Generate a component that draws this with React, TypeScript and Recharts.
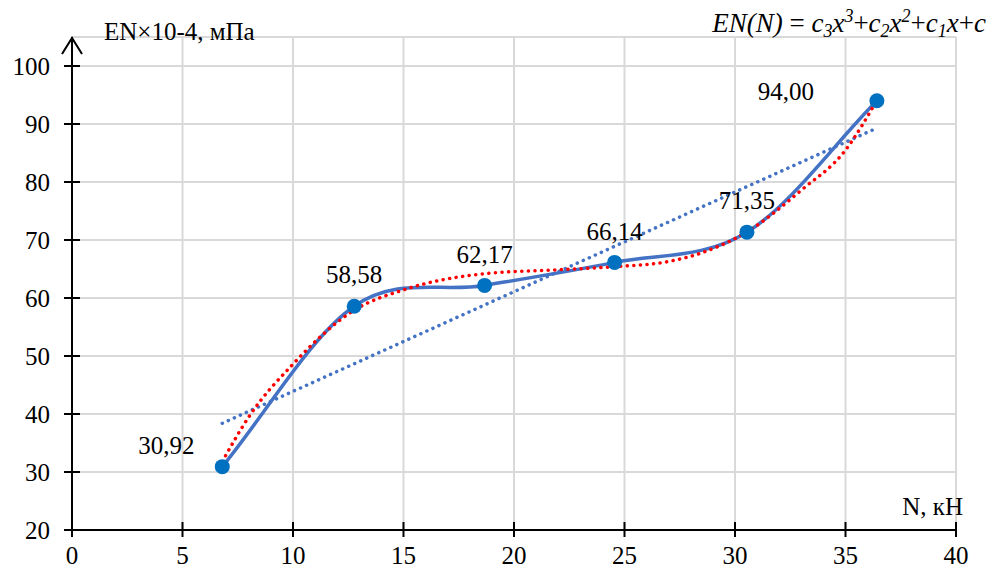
import { LineChart, Line, XAxis, YAxis, CartesianGrid, LabelList } from 'recharts';

// measured points: load N (kN) vs EN×10-4 (MPa)
const loadN = [6.8, 12.77, 18.67, 24.55, 30.54, 36.42];
const modulusEN = [30.92, 58.58, 62.17, 66.14, 71.35, 94.0];

// cubic trend line
const cubicN = [6.8, 8, 10, 12.77, 15, 18.67, 21.6, 24.55, 27, 28.5, 30.54, 33, 35, 36.42];
const cubicEN = [31.8, 39.5, 48.6, 57.9, 61.4, 64.2, 64.8, 65.4, 66.3, 67.8, 71.4, 78.6, 85.5, 94.1];

// linear trend line
const linearN = [6.8, 36.42];
const linearEN = [38.4, 89.3];

const xTicks = [0, 5, 10, 15, 20, 25, 30, 35, 40];
const yTicks = [20, 30, 40, 50, 60, 70, 80, 90, 100];

const FONT = "'Liberation Serif', 'Times New Roman', serif";
const BLUE = '#4472C4';
const MARKER = '#0070C0';
const textStyle = { fontFamily: FONT, fontSize: 25 };

const mainData = loadN.map((n, i) => ({ n, en: modulusEN[i] }));
const cubicData = cubicN.map((n, i) => ({ n, en: cubicEN[i] }));
const linearData = linearN.map((n, i) => ({ n, en: linearEN[i] }));

// label placement around each marker
const labelShift: Record<number, [number, number]> = {
  0: [-56, -22],
  1: [0, -32],
  2: [0, -31],
  3: [0, -31],
  4: [0, -32],
  5: [-91, -10],
};

// Excel-style smoothed line (Catmull-Rom through the points, reflected ends)
const smoothCurve = (context: any) => {
  let pts: number[][] = [];
  return {
    areaStart() {},
    areaEnd() {},
    lineStart() {
      pts = [];
    },
    lineEnd() {
      if (!pts.length) return;
      context.moveTo(pts[0][0], pts[0][1]);
      const n = pts.length;
      for (let i = 0; i < n - 1; i++) {
        const p1 = pts[i];
        const p2 = pts[i + 1];
        const p0 = i > 0 ? pts[i - 1] : [2 * p1[0] - p2[0], 2 * p1[1] - p2[1]];
        const p3 = i + 2 < n ? pts[i + 2] : [2 * p2[0] - p1[0], 2 * p2[1] - p1[1]];
        context.bezierCurveTo(
          p1[0] + (p2[0] - p0[0]) / 6,
          p1[1] + (p2[1] - p0[1]) / 6,
          p2[0] - (p3[0] - p1[0]) / 6,
          p2[1] - (p3[1] - p1[1]) / 6,
          p2[0],
          p2[1]
        );
      }
    },
    point(x: number, y: number) {
      pts.push([+x, +y]);
    },
  };
};

const XTick = (props: any) => {
  const { x, y, payload } = props;
  return (
    <g>
      <line x1={x} x2={x} y1={y - 8} y2={y + 7} stroke="#000" strokeWidth={2} />
      <text x={x} y={y + 34} textAnchor="middle" style={textStyle} fill="#000">
        {payload.value}
      </text>
    </g>
  );
};

const YTick = (props: any) => {
  const { x, y, payload } = props;
  return (
    <g>
      <line x1={x - 8} x2={x + 8} y1={y} y2={y} stroke="#000" strokeWidth={2} />
      <text x={x - 22} y={y + 9} textAnchor="end" style={textStyle} fill="#000">
        {payload.value}
      </text>
    </g>
  );
};

const ValueLabel = (props: any) => {
  const { x, y, value, index } = props;
  const [dx, dy] = labelShift[index] || [0, -30];
  return (
    <text x={x + dx} y={y + dy + 9} textAnchor="middle" style={textStyle} fill="#000">
      {Number(value).toFixed(2).replace('.', ',')}
    </text>
  );
};

export default function App() {
  const sub = { fontSize: 18, fontStyle: 'italic' };
  const up = { fontStyle: 'normal' };
  return (
    <div style={{ position: 'absolute', left: 0, top: 0, width: 994, height: 570, background: '#fff' }}>
      <LineChart width={994} height={570} margin={{ top: 37, right: 38, left: 0, bottom: 0 }}>
        <CartesianGrid stroke="#d9d9d9" strokeWidth={2} />
        <XAxis
          type="number"
          dataKey="n"
          domain={[0, 40]}
          ticks={xTicks}
          allowDataOverflow
          height={40}
          tickSize={0}
          tickMargin={0}
          tickLine={false}
          axisLine={{ stroke: '#000', strokeWidth: 2 }}
          tick={<XTick />}
        />
        <YAxis
          type="number"
          domain={[20, 105]}
          ticks={yTicks}
          allowDataOverflow
          width={72}
          tickSize={0}
          tickMargin={0}
          tickLine={false}
          axisLine={{ stroke: '#000', strokeWidth: 2 }}
          tick={<YTick />}
        />
        <Line
          data={mainData}
          dataKey="en"
          type={smoothCurve as any}
          stroke={BLUE}
          strokeWidth={3.5}
          dot={{ r: 7.5, fill: MARKER, stroke: MARKER, strokeWidth: 0 }}
          activeDot={false}
          isAnimationActive={false}
        >
          <LabelList dataKey="en" content={<ValueLabel />} />
        </Line>
        <Line
          data={linearData}
          dataKey="en"
          type="linear"
          stroke={BLUE}
          strokeWidth={3.5}
          strokeDasharray="0.1 6.5"
          strokeLinecap="round"
          dot={false}
          activeDot={false}
          isAnimationActive={false}
        />
        <Line
          data={cubicData}
          dataKey="en"
          type="monotone"
          stroke="#FF0000"
          strokeWidth={3.5}
          strokeDasharray="0.1 6.5"
          strokeLinecap="round"
          dot={false}
          activeDot={false}
          isAnimationActive={false}
        />
      </LineChart>
      <svg
        width={994}
        height={570}
        style={{ position: 'absolute', left: 0, top: 0, pointerEvents: 'none' }}
      >
        {/* y axis arrow */}
        <polyline points="62,54 72,38 82,54" fill="none" stroke="#000" strokeWidth={2} />
        <text x={104} y={40} style={textStyle} fill="#000">
          EN×10-4, мПа
        </text>
        <text x={963} y={515} textAnchor="end" style={textStyle} fill="#000">
          N, кН
        </text>
        <text
          x={986}
          y={32}
          textAnchor="end"
          style={{ fontFamily: FONT, fontSize: 27, fontStyle: 'italic' }}
          fill="#000"
        >
          {'EN(N) '}
          <tspan style={up}>{'= '}</tspan>
          c<tspan dy={5} style={sub}>3</tspan>
          <tspan dy={-5}>x</tspan>
          <tspan dy={-10} style={sub}>3</tspan>
          <tspan dy={10} style={up}>+</tspan>
          c<tspan dy={5} style={sub}>2</tspan>
          <tspan dy={-5}>x</tspan>
          <tspan dy={-10} style={sub}>2</tspan>
          <tspan dy={10} style={up}>+</tspan>
          c<tspan dy={5} style={sub}>1</tspan>
          <tspan dy={-5}>x</tspan>
          <tspan style={up}>+</tspan>c
        </text>
      </svg>
    </div>
  );
}
